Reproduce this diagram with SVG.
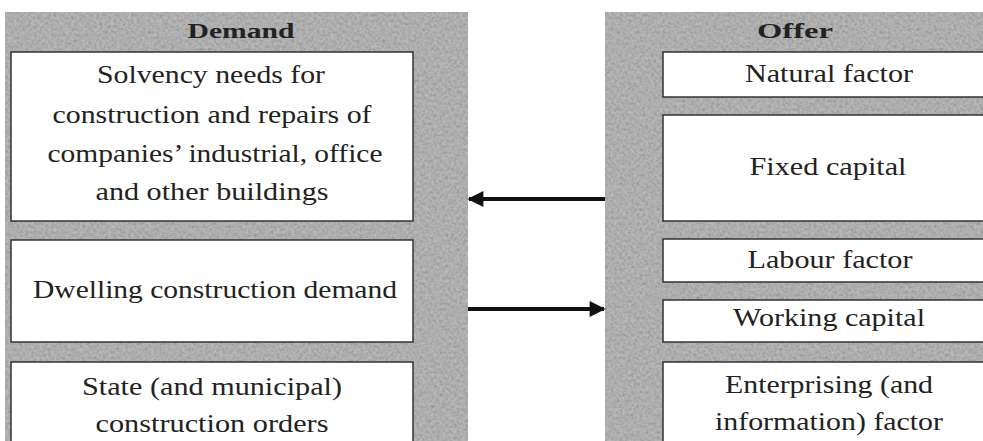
<svg xmlns="http://www.w3.org/2000/svg" width="983" height="441" viewBox="0 0 983 441">
<style>
.panel{fill:#a7a7a7}
.noise{fill:#000;filter:url(#grain)}
.box{fill:#fff;stroke:#333;stroke-width:1.5}
.t{font-size:26px;fill:#222;text-anchor:middle}
.h{font-size:22px;font-weight:bold;fill:#222;text-anchor:middle}
.arr{stroke:#111;stroke-width:4;fill:none}
</style>
<defs>
<marker id="ah" viewBox="0 0 10 10" refX="9" refY="5" markerWidth="5" markerHeight="4" markerUnits="strokeWidth" orient="auto">
<path d="M0,0 L10,5 L0,10 z" fill="#111"/>
</marker>
<filter id="grain" filterUnits="userSpaceOnUse" x="0" y="0" width="983" height="441">
<feTurbulence type="fractalNoise" baseFrequency="0.35" numOctaves="3" seed="7" result="t"/>
<feColorMatrix in="t" type="matrix" values="1 0 0 0 0  1 0 0 0 0  1 0 0 0 0  0 0 0 0 0.3" result="g"/>
<feComposite in="g" in2="SourceGraphic" operator="in"/>
</filter>
</defs>
<rect width="983" height="441" fill="#fff"/>
<g font-family="Liberation Serif, DejaVu Serif, serif">
<g id="demand">
<rect class="panel" x="5" y="12" width="463" height="435"/>
<rect class="noise" x="5" y="12" width="463" height="435"/>
<text class="h" x="241" y="38" textLength="107" lengthAdjust="spacingAndGlyphs">Demand</text>
</g>
<g id="offer">
<rect class="panel" x="605" y="12" width="385" height="435"/>
<rect class="noise" x="605" y="12" width="385" height="435"/>
<text class="h" x="795" y="38" textLength="76" lengthAdjust="spacingAndGlyphs">Offer</text>
</g>
<g id="d1">
<rect class="box" x="11" y="52" width="402" height="169"/>
<text class="t" x="211" y="83" textLength="228" lengthAdjust="spacingAndGlyphs">Solvency needs for</text>
<text class="t" x="212" y="123" textLength="319" lengthAdjust="spacingAndGlyphs">construction and repairs of</text>
<text class="t" x="215" y="162" textLength="335" lengthAdjust="spacingAndGlyphs">companies’ industrial, office</text>
<text class="t" x="212" y="200" textLength="233" lengthAdjust="spacingAndGlyphs">and other buildings</text>
</g>
<g id="d2">
<rect class="box" x="11" y="240" width="402" height="102"/>
<text class="t" x="215" y="298" textLength="364" lengthAdjust="spacingAndGlyphs">Dwelling construction demand</text>
</g>
<g id="d3">
<rect class="box" x="11" y="362" width="402" height="90"/>
<text class="t" x="212" y="395" textLength="260" lengthAdjust="spacingAndGlyphs">State (and municipal)</text>
<text class="t" x="212" y="432" textLength="233" lengthAdjust="spacingAndGlyphs">construction orders</text>
</g>
<g id="o1">
<rect class="box" x="663" y="52" width="330" height="45"/>
<text class="t" x="829" y="82" textLength="168" lengthAdjust="spacingAndGlyphs">Natural factor</text>
</g>
<g id="o2">
<rect class="box" x="663" y="115" width="330" height="106"/>
<text class="t" x="828" y="175" textLength="157" lengthAdjust="spacingAndGlyphs">Fixed capital</text>
</g>
<g id="o3">
<rect class="box" x="663" y="239" width="330" height="43"/>
<text class="t" x="830" y="268" textLength="165" lengthAdjust="spacingAndGlyphs">Labour factor</text>
</g>
<g id="o4">
<rect class="box" x="663" y="300" width="330" height="42"/>
<text class="t" x="829" y="326" textLength="192" lengthAdjust="spacingAndGlyphs">Working capital</text>
</g>
<g id="o5">
<rect class="box" x="663" y="362" width="330" height="90"/>
<text class="t" x="829" y="393" textLength="208" lengthAdjust="spacingAndGlyphs">Enterprising (and</text>
<text class="t" x="829" y="430" textLength="228" lengthAdjust="spacingAndGlyphs">information) factor</text>
</g>
</g>
<g id="connectors">
<line class="arr" x1="605" y1="199" x2="469" y2="199" marker-end="url(#ah)"/>
<line class="arr" x1="468" y1="309" x2="604" y2="309" marker-end="url(#ah)"/>
</g>
</svg>
